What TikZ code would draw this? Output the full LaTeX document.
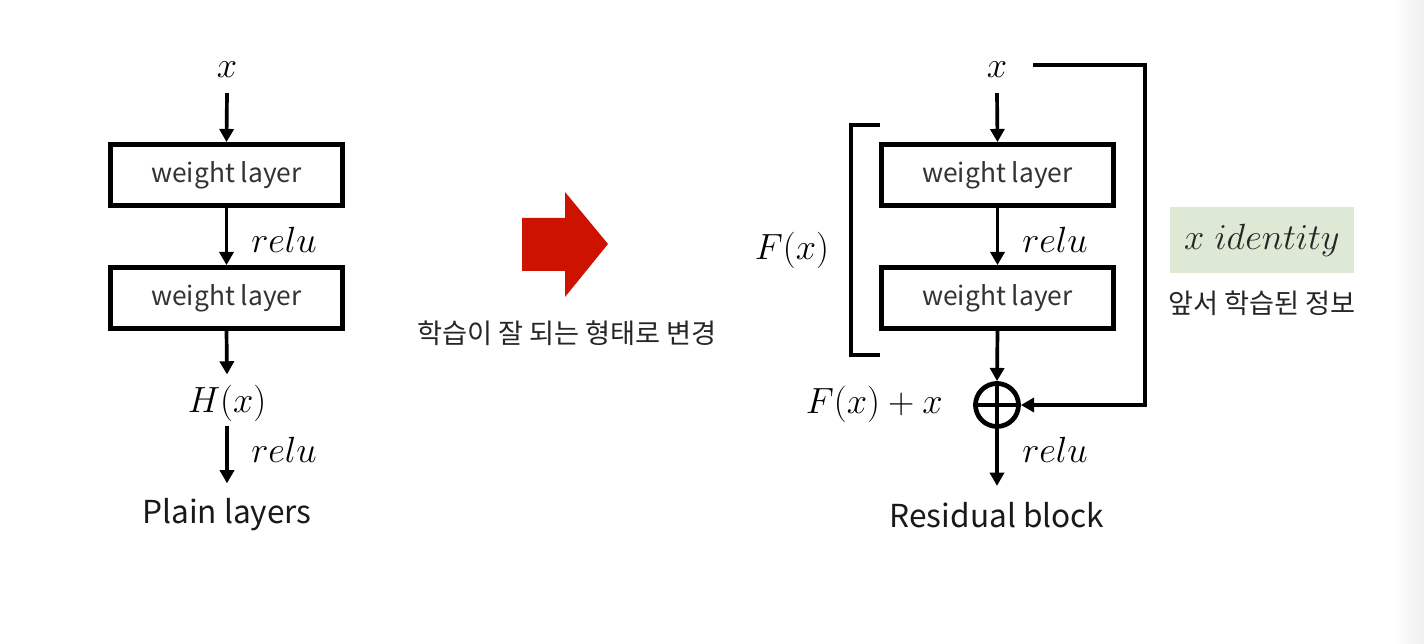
\documentclass[tikz,border=0pt]{standalone}
\usepackage{fontspec}
\newfontfamily\kr{Noto Sans CJK KR}
\usetikzlibrary{arrows.meta,shapes.geometric}
\definecolor{arrowred}{RGB}{205,18,0}
\definecolor{idgreen}{RGB}{221,232,213}
\begin{document}
\begin{tikzpicture}[x=0.02cm,y=-0.02cm,
  wbox/.style={draw, line width=2.7pt, minimum width=4.64cm, minimum height=1.22cm, inner sep=0pt, font=\kr\fontsize{15}{17}\selectfont, text=black!80},
  conn/.style={line width=2.1pt, -{Triangle[length=7.5pt,width=8pt]}},
  mth/.style={font=\fontsize{21}{24}\selectfont, inner sep=0pt},
  lbl/.style={font=\kr\fontsize{18}{20}\selectfont, inner sep=0pt, text=black!90},
  kor/.style={font=\kr\fontsize{15.5}{18}\selectfont, text=black!85, inner sep=0pt}]
\useasboundingbox (0,0) rectangle (1424,644);
\fill[white] (0,0) rectangle (1424,644);
\shade[left color=white, right color=black!6] (1392,0) rectangle (1424,644);

% ---------- left: plain layers ----------
\node[mth] (lx) at (227,70) {$x$};
\node[wbox] (lb1) at (226.5,175) {weight layer};
\node[wbox] (lb2) at (226.5,298) {weight layer};
\node[mth] (lH) at (227,403) {$H(x)$};
\node[lbl] (lt) at (227,515) {Plain layers};
\node[mth, anchor=west] (lr1) at (251,240) {$relu$};
\node[mth, anchor=west] (lr2) at (251,450) {$relu$};
\draw[conn] ([yshift=-0.3cm]lx.south) -- (lb1.north);
\draw[conn] (lb1.south) -- (lb2.north);
\draw[conn] (lb2.south) -- ([yshift=0.2cm]lH.north);
\draw[conn] ([yshift=-0.08cm]lH.south) -- ([yshift=0.3cm]lt.north);

% ---------- middle: red arrow ----------
\fill[arrowred] (522,218) -- (565,218) -- (565,192) -- (608,244) -- (565,297) -- (565,271) -- (522,271) -- cycle;
\node[kor] (mid) at (567,333) {학습이 잘 되는 형태로 변경};

% ---------- right: residual block ----------
\node[mth] (rx) at (997,70) {$x$};
\node[wbox] (rb1) at (997.5,175) {weight layer};
\node[wbox] (rb2) at (997.5,298) {weight layer};
\node[circle, draw, line width=2.7pt, minimum size=0.86cm, inner sep=0pt] (plus) at (997,405) {};
\draw[line width=2pt] (plus.north) -- (plus.south) (plus.west) -- (plus.east);
\node[mth, anchor=east] (fx) at (943,404) {$F(x)+x$};
\node[mth] (Fx) at (792,250) {$F(x)$};
\node[lbl] (rt) at (997,515) {Residual block};
\node[mth, anchor=west] (rr1) at (1022,240) {$relu$};
\node[mth, anchor=west] (rr2) at (1022,450) {$relu$};
\draw[conn] ([yshift=-0.3cm]rx.south) -- (rb1.north);
\draw[conn] (rb1.south) -- (rb2.north);
\draw[conn] (rb2.south) -- (plus.north);
\draw[conn] (plus.south) -- ([yshift=0.32cm]rt.north);
\coordinate (s0) at (1033,65);
\coordinate (s1) at (1145,65);
\draw[conn] (s0) -- (s1) |- (plus.east);
% bracket
\coordinate (bt) at (880,125);
\coordinate (bb) at (880,355);
\draw[line width=2.7pt] (bt) -- ++(-29,0) -- ++(0,230) -- (bb);

% identity label
\node[fill=idgreen, minimum width=3.7cm, minimum height=1.32cm, font=\fontsize{21}{24}\selectfont, text=black!85] (id) at (1262,240) {$x\;identity$};
\node[kor] (prev) at (1262,303) {앞서 학습된 정보};
\end{tikzpicture}
\end{document}
